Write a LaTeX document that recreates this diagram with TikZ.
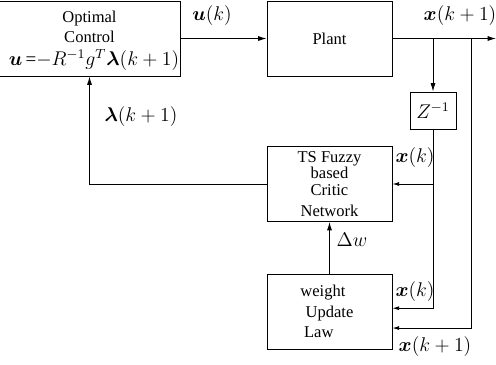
\documentclass[tikz,border=0pt]{standalone}
\usepackage{amsmath,bm}
\usepackage{fontspec}
\setmainfont{Liberation Serif}
\usetikzlibrary{arrows.meta, positioning, calc}
\newcommand{\mathsize}{\fontsize{11.5}{13}\selectfont}
\tikzset{
block/.style={
draw,
line width=0.6pt,
align=center,
inner sep=1pt,
minimum width=125*0.605pt,
minimum height=75*0.605pt
},
delaybox/.style={
draw,
line width=0.6pt,
inner sep=1pt,
font=\mathsize,
minimum width=46*0.605pt,
minimum height=37*0.605pt
},
sig/.style={
inner sep=1pt,
font=\mathsize
},
arrow/.style={
-{Latex[length=5pt,width=3pt]},
line width=0.5pt
},
smallarrow/.style={
-{Latex[length=4pt,width=2.4pt]},
line width=0.5pt
}
}

\begin{document}
\begin{tikzpicture}[x=0.605pt,y=-0.605pt]
\useasboundingbox (0,0) rectangle (496,364);

% blocks
\node[block, minimum width=165*0.605pt] (ctrl) at (89.5,38.5)
  {\rule{0pt}{10pt}Optimal\\[0pt]Control\\[2.2pt]{\mathsize\hspace*{5.5pt}$\bm{u}$\,=$-R^{-1}g^{T}\bm{\lambda}(k+1)$}};
\node[block] (plant) at (329.5,38.5) {Plant};
\node[delaybox] (delay) at (433,110.5) {$Z^{-1}$};
\node[block, font=\fontsize{10}{10}\selectfont] (critic) at (329.5,184)
  {TS Fuzzy\\based\\Critic\\[3pt]Network};
\node[block, font=\fontsize{10}{12.5}\selectfont] (update) at (329.5,311.5)
  {weight\hspace*{8pt}\\Update\hspace*{11pt}\\Law\hspace*{13pt}};

% taps on the output line
\coordinate (out) at (496,38.5);
\coordinate (tap1) at (433,38.5);
\coordinate (tap2) at (471,38.5);
\coordinate (split) at (433,184);

% connections
\draw[arrow] (ctrl) -- (plant);
\draw[arrow] (plant.east) -- (out);
\draw[arrow] (tap1) -- (delay.north);
\draw[smallarrow] (split) -- (critic.east);
\draw[smallarrow] (delay.south) |- ([yshift=2pt]update.east);
\draw[smallarrow] (tap2) |- ([yshift=-10pt]update.east);
\draw[arrow] (update.north) -- (critic.south);
\draw[arrow] (critic.west) -| (ctrl.south);

% signal labels
\node[sig] (lu) at (212,16) {$\bm{u}(k)$};
\node[sig] (lxout) at (460,16) {$\bm{x}(k+1)$};
\node[sig] (llam) at (141,117) {$\bm{\lambda}(k+1)$};
\node[sig] (lxk1) at (415,158) {$\bm{x}(k)$};
\node[sig] (ldw) at (352,240) {$\Delta w$};
\node[sig] (lxk2) at (415,292) {$\bm{x}(k)$};
\node[sig] (lxk3) at (435,347) {$\bm{x}(k+1)$};

\end{tikzpicture}
\end{document}
